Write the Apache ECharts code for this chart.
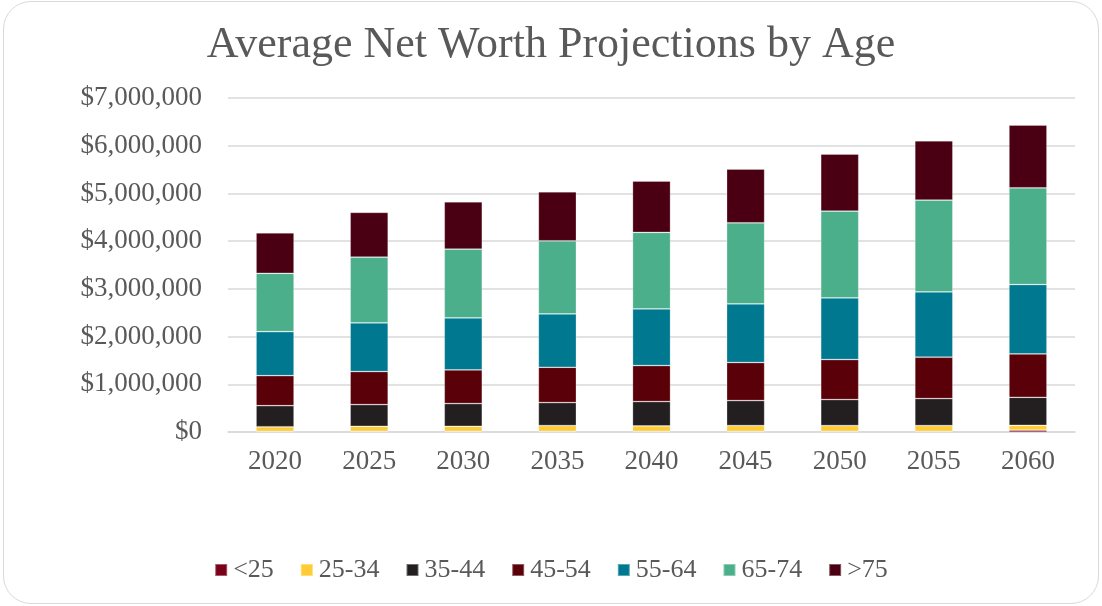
<!DOCTYPE html>
<html>
<head>
<meta charset="utf-8">
<script src="https://cdn.jsdelivr.net/npm/echarts@6/dist/echarts.min.js"></script>
<style>
    html, body { margin: 0; padding: 0; background: #fff; }
    #frame {
        position: absolute; left: 3px; top: 1px; width: 1094px; height: 601px;
        border: 1.5px solid #d9d9d9; border-radius: 28px;
    }
    #chart { position: absolute; left: 0; top: 0; width: 1102px; height: 606px; }
</style>
</head>
<body>
<div id="frame"></div>
<div id="chart"></div>
<script>
var years = ['2020', '2025', '2030', '2035', '2040', '2045', '2050', '2055', '2060'];
var ageGroups = ['<25', '25-34', '35-44', '45-54', '55-64', '65-74', '>75'];

// average net worth by age group, in dollars
var under25 = [15000, 15000, 15000, 15000, 15000, 15000, 15000, 15000, 40000];
var age25_34 = [95000, 105000, 105000, 119000, 111000, 119000, 119000, 119000, 100000];
var age35_44 = [441000, 455000, 476000, 483000, 512000, 525000, 546000, 567000, 587000];
var age45_54 = [629000, 692000, 705000, 740000, 755000, 797000, 839000, 866000, 908000];
var age55_64 = [923000, 1020000, 1090000, 1118000, 1187000, 1229000, 1292000, 1370000, 1456000];
var age65_74 = [1223000, 1378000, 1442000, 1532000, 1603000, 1699000, 1819000, 1924000, 2027000];
var over75 = [846000, 937000, 992000, 1028000, 1076000, 1127000, 1195000, 1243000, 1315000];

var yTicks = [0, 1000000, 2000000, 3000000, 4000000, 5000000, 6000000, 7000000];

var seriesValues = [under25, age25_34, age35_44, age45_54, age55_64, age65_74, over75];
var colors = ['#7a0019', '#ffcc33', '#231f20', '#5a0008', '#007890', '#4caf8c', '#4a0012'];

var fontFamily = '"Liberation Serif", serif';
var textColor = '#595959';

var myChart = echarts.init(document.getElementById('chart'));

function money(v) {
    return '$' + v.toString().replace(/\B(?=(\d{3})+(?!\d))/g, ',');
}

var option = {
    backgroundColor: 'transparent',
    color: colors,
    animation: false,
    title: {
        text: 'Average Net Worth Projections by Age',
        left: 'center',
        top: 18,
        textStyle: { fontFamily: fontFamily, fontSize: 44, fontWeight: 'normal', color: textColor }
    },
    legend: {
        bottom: 18,
        left: 'center',
        itemWidth: 12,
        itemHeight: 12,
        itemGap: 26,
        icon: 'rect',
        data: ageGroups,
        textStyle: { fontFamily: fontFamily, fontSize: 26, color: textColor, padding: [0, 0, 0, 1] }
    },
    grid: { left: 228, right: 27, top: 98, bottom: 174 },
    xAxis: {
        type: 'category',
        data: years,
        axisLine: { lineStyle: { color: '#d9d9d9', width: 1.5 } },
        axisTick: { show: false },
        axisLabel: { fontFamily: fontFamily, fontSize: 27, color: textColor, margin: 16 }
    },
    yAxis: {
        type: 'value',
        min: yTicks[0],
        max: yTicks[yTicks.length - 1],
        interval: 1000000,
        axisLine: { show: false },
        axisTick: { show: false },
        splitLine: { lineStyle: { color: '#d9d9d9', width: 1.5 } },
        axisLabel: {
            fontFamily: fontFamily, fontSize: 27, color: textColor, margin: 26,
            formatter: money
        }
    },
    series: []
};

ageGroups.forEach(function(name, idx) {
    option.series.push({
        name: name,
        type: 'bar',
        stack: 'total',
        barWidth: 38,
        data: seriesValues[idx],
        itemStyle: { borderColor: 'rgba(255,255,255,0.35)', borderWidth: 0.75 }
    });
});

myChart.setOption(option);
</script>
</body>
</html>
